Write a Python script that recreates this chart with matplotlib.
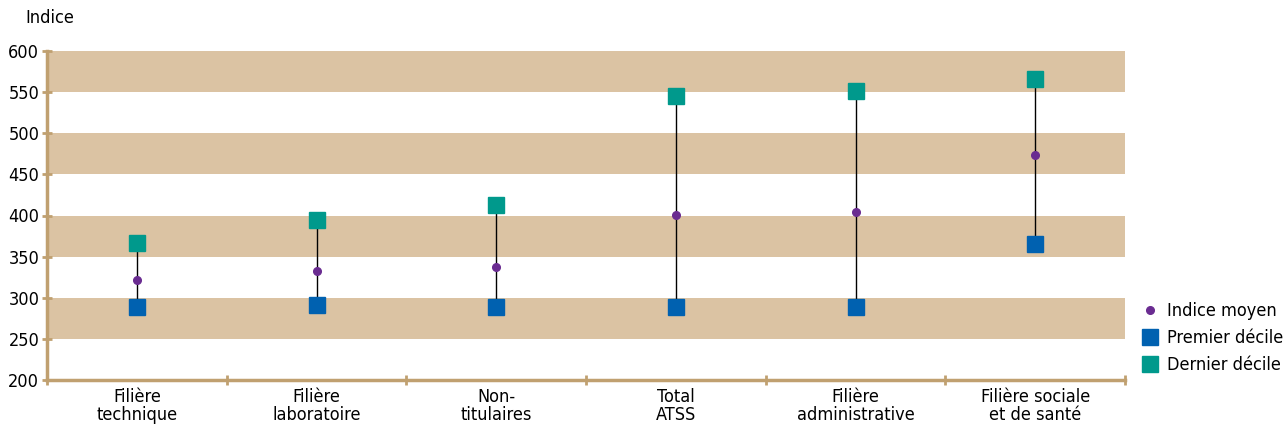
import matplotlib.pyplot as plt
import numpy as np
from matplotlib.lines import Line2D

plt.rcParams['font.family'] = ['DejaVu Sans']
plt.rcParams['font.stretch'] = 'condensed'

# Données
filieres = ['Filière\ntechnique', 'Filière\nlaboratoire', 'Non-\ntitulaires',
            'Total\nATSS', 'Filière\nadministrative', 'Filière sociale\net de santé']
premier = [289, 291, 289, 289, 289, 365]
moyen = [321, 333, 337, 401, 404, 473]
dernier = [367, 394, 413, 545, 551, 566]
yticks = [200, 250, 300, 350, 400, 450, 500, 550, 600]

c_band = '#dbc3a3'
c_axe = '#c0a070'
c_bleu = '#0061b0'
c_vert = '#00998c'
c_violet = '#6a2c91'

fig = plt.figure(figsize=(12.85, 4.3), dpi=100)
ax = fig.add_axes([47 / 1285, 50 / 430, 1078 / 1285, 329 / 430])

# bandes horizontales
for b in [250, 350, 450, 550]:
    ax.axhspan(b, b + 50, color=c_band, lw=0, zorder=0)

x = np.arange(len(filieres))
for i in x:
    ax.plot([i, i], [premier[i], dernier[i]], color='black', lw=1, zorder=2)
ax.plot(x, premier, 's', color=c_bleu, ms=11, zorder=3)
ax.plot(x, dernier, 's', color=c_vert, ms=11, zorder=3)
ax.plot(x, moyen, 'o', color=c_violet, ms=5.5, zorder=4)

ax.set_xlim(-0.5, len(filieres) - 0.5)
ax.set_ylim(200, 600)
ax.set_yticks(yticks)
ax.set_yticklabels([str(v) for v in yticks], fontsize=13)
ax.set_xticks(np.arange(len(filieres) + 1) - 0.5)
ax.set_xticklabels([])
ax.set_xticks(x, minor=True)
ax.set_xticklabels(filieres, minor=True, fontsize=13, linespacing=1.0)
ax.tick_params(axis='x', which='minor', length=0, pad=6)
ax.tick_params(axis='both', which='major', direction='inout', length=7, width=2, color=c_axe)
ax.tick_params(axis='y', pad=2)

for s in ['top', 'right']:
    ax.spines[s].set_visible(False)
for s in ['left', 'bottom']:
    ax.spines[s].set_color(c_axe)
    ax.spines[s].set_linewidth(2.5)

fig.text(25 / 1285, 1 - 18 / 430, 'Indice', fontsize=13, va='center')

handles = [
    Line2D([], [], marker='o', ls='', color=c_violet, ms=5.5),
    Line2D([], [], marker='s', ls='', color=c_bleu, ms=11),
    Line2D([], [], marker='s', ls='', color=c_vert, ms=11),
]
fig.legend(handles, ['Indice moyen', 'Premier décile', 'Dernier décile'],
           loc='center left', bbox_to_anchor=(1136 / 1285, 1 - 338 / 430),
           frameon=False, fontsize=13, handlelength=0.8, handletextpad=0.5,
           labelspacing=0.5, borderaxespad=0)

fig.savefig('out.png', dpi=100)
